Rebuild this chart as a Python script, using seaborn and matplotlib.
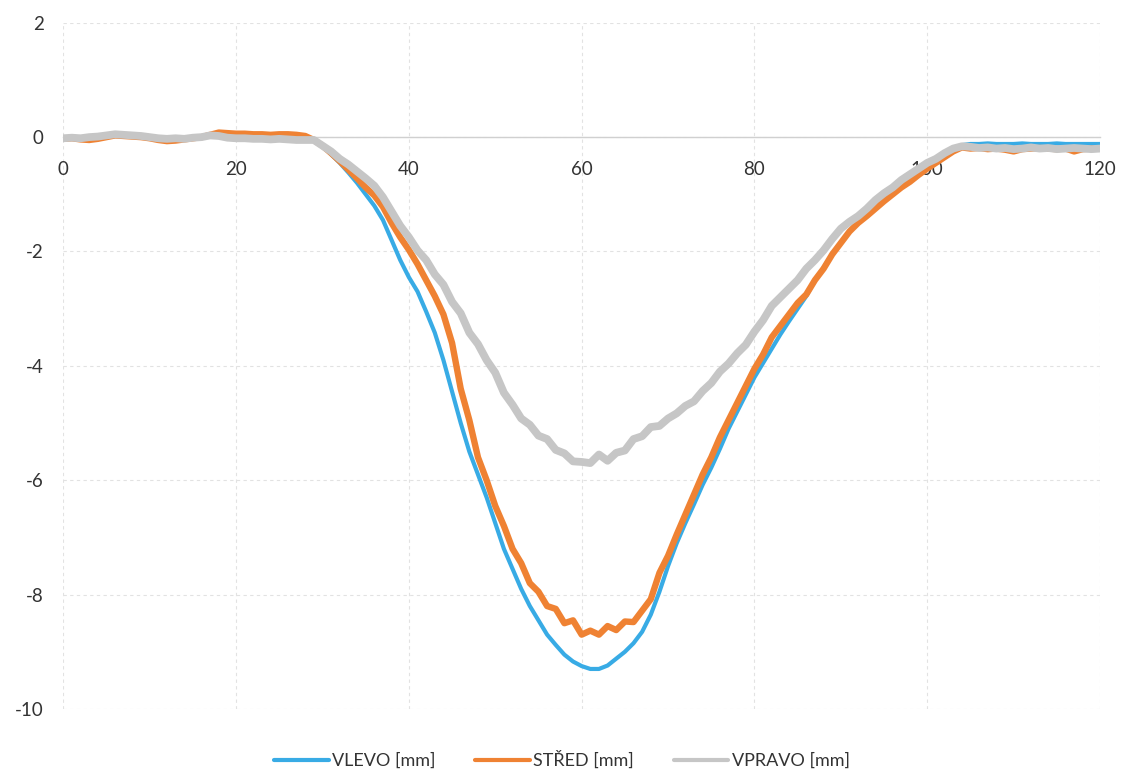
import numpy as np
import pandas as pd
import matplotlib
matplotlib.use("Agg")
import matplotlib.pyplot as plt
import seaborn as sns
from matplotlib.lines import Line2D

# ---------------- data ----------------
x_mm = list(range(0, 121))

vlevo = [
    -0.03, -0.02, -0.02, -0.01, 0.00, 0.02, 0.03, 0.03, 0.02, 0.01,
    0.00, -0.02, -0.03, -0.03, -0.03, -0.02, -0.01, 0.01, 0.01, 0.00,
    -0.01, -0.02, -0.02, -0.03, -0.03, -0.03, -0.04, -0.04, -0.05, -0.05,
    -0.15, -0.30, -0.45, -0.62, -0.80, -1.00, -1.20, -1.45, -1.80, -2.15,
    -2.45, -2.70, -3.05, -3.42, -3.90, -4.45, -5.00, -5.50, -5.90, -6.30,
    -6.75, -7.20, -7.55, -7.90, -8.20, -8.45, -8.70, -8.88, -9.05, -9.17,
    -9.25, -9.30, -9.30, -9.24, -9.12, -9.00, -8.85, -8.65, -8.35, -7.95,
    -7.50, -7.10, -6.75, -6.42, -6.08, -5.78, -5.45, -5.10, -4.80, -4.50,
    -4.20, -3.95, -3.70, -3.45, -3.22, -3.00, -2.78, -2.50, -2.28, -2.05,
    -1.85, -1.65, -1.50, -1.36, -1.22, -1.10, -0.98, -0.86, -0.76, -0.65,
    -0.55, -0.45, -0.34, -0.24, -0.14, -0.12, -0.12, -0.11, -0.12, -0.12,
    -0.12, -0.11, -0.12, -0.12, -0.12, -0.11, -0.12, -0.12, -0.12, -0.12,
    -0.12,
]

stred = [
    -0.03, -0.02, -0.04, -0.05, -0.03, 0.00, 0.03, 0.02, 0.01, 0.00,
    -0.02, -0.05, -0.07, -0.06, -0.04, -0.02, 0.00, 0.04, 0.08, 0.07,
    0.06, 0.06, 0.05, 0.05, 0.04, 0.05, 0.05, 0.04, 0.02, -0.05,
    -0.15, -0.28, -0.42, -0.57, -0.72, -0.88, -1.02, -1.22, -1.50, -1.75,
    -1.97, -2.22, -2.50, -2.78, -3.10, -3.60, -4.40, -4.95, -5.60, -6.00,
    -6.45, -6.80, -7.20, -7.45, -7.80, -7.95, -8.20, -8.25, -8.50, -8.45,
    -8.70, -8.63, -8.70, -8.55, -8.62, -8.47, -8.48, -8.28, -8.08, -7.62,
    -7.32, -6.95, -6.60, -6.25, -5.90, -5.60, -5.25, -4.95, -4.65, -4.35,
    -4.05, -3.80, -3.50, -3.30, -3.10, -2.90, -2.75, -2.50, -2.30, -2.05,
    -1.85, -1.65, -1.50, -1.38, -1.25, -1.12, -1.00, -0.88, -0.78, -0.66,
    -0.55, -0.45, -0.35, -0.25, -0.18, -0.20, -0.19, -0.21, -0.20, -0.22,
    -0.25, -0.21, -0.20, -0.19, -0.20, -0.21, -0.20, -0.25, -0.21, -0.20,
    -0.20,
]

vpravo = [
    -0.02, -0.01, -0.02, 0.00, 0.01, 0.03, 0.05, 0.04, 0.03, 0.02,
    0.00, -0.02, -0.03, -0.02, -0.03, -0.01, 0.00, 0.03, 0.02, -0.01,
    -0.02, -0.02, -0.03, -0.03, -0.04, -0.03, -0.04, -0.05, -0.05, -0.05,
    -0.15, -0.25, -0.38, -0.48, -0.60, -0.72, -0.85, -1.05, -1.30, -1.55,
    -1.75, -1.98, -2.15, -2.40, -2.58, -2.88, -3.08, -3.42, -3.62, -3.90,
    -4.12, -4.47, -4.68, -4.92, -5.03, -5.22, -5.28, -5.47, -5.53, -5.67,
    -5.68, -5.70, -5.55, -5.66, -5.52, -5.48, -5.28, -5.23, -5.07, -5.05,
    -4.92, -4.83, -4.70, -4.62, -4.44, -4.30, -4.10, -3.96, -3.78, -3.63,
    -3.40, -3.20, -2.95, -2.80, -2.65, -2.50, -2.30, -2.15, -1.98, -1.78,
    -1.60, -1.48, -1.38, -1.25, -1.10, -0.98, -0.88, -0.75, -0.65, -0.55,
    -0.45, -0.38, -0.28, -0.20, -0.16, -0.17, -0.19, -0.18, -0.20, -0.19,
    -0.21, -0.20, -0.18, -0.20, -0.19, -0.21, -0.20, -0.19, -0.20, -0.21,
    -0.20,
]

series_names = ["VLEVO [mm]", "STŘED [mm]", "VPRAVO [mm]"]
series_colors = ["#38ABE5", "#EF8233", "#C6C6C6"]
x_ticks = [0, 20, 40, 60, 80, 100, 120]
y_ticks = [2, 0, -2, -4, -6, -8, -10]

# ---------------- plotting ----------------
sns.set_style("white")
plt.rcParams["font.family"] = ["Lato", "DejaVu Sans"]

fig = plt.figure(figsize=(11.24, 7.74), dpi=100)
ax = fig.add_axes([0.0563, 0.084, 0.9224, 0.8866])

df = pd.DataFrame({
    "x": x_mm * 3,
    "y": vlevo + stred + vpravo,
    "series": [series_names[0]] * len(x_mm)
              + [series_names[1]] * len(x_mm)
              + [series_names[2]] * len(x_mm),
})

widths = [3.0, 4.6, 5.6]
for name, col, lw in zip(series_names, series_colors, widths):
    sub = df[df["series"] == name]
    sns.lineplot(data=sub, x="x", y="y", color=col, linewidth=lw,
                 ax=ax, legend=False, zorder=3)

ax.set_xlim(0, 120)
ax.set_ylim(-10, 2)
ax.set_xticks(x_ticks)
ax.set_yticks(y_ticks)
ax.set_xticklabels([str(t) for t in x_ticks])
ax.set_yticklabels([str(t) for t in y_ticks])
ax.set_xlabel("")
ax.set_ylabel("")

ax.grid(True, color="#E2E2E2", linestyle=(0, (3, 3)), linewidth=0.8, zorder=0)
for s in ["top", "right", "left"]:
    ax.spines[s].set_visible(False)
ax.spines["bottom"].set_position(("data", 0))
ax.spines["bottom"].set_color("#D0D0D0")
ax.spines["bottom"].set_linewidth(1.0)
ax.spines["bottom"].set_zorder(1)

ax.tick_params(axis="x", length=0, pad=17, labelsize=13.5, labelcolor="#333333")
ax.tick_params(axis="y", length=0, pad=14, labelsize=13.5, labelcolor="#333333")

handles = [Line2D([0], [0], color=c, linewidth=3) for c in series_colors]
fig.legend(handles, series_names, loc="center", bbox_to_anchor=(0.5, 0.018),
           ncol=3, frameon=False, fontsize=13, handlelength=3.0,
           handletextpad=0.2, columnspacing=2.2, labelcolor="#333333")

fig.savefig("out.png", dpi=100, facecolor="white")
